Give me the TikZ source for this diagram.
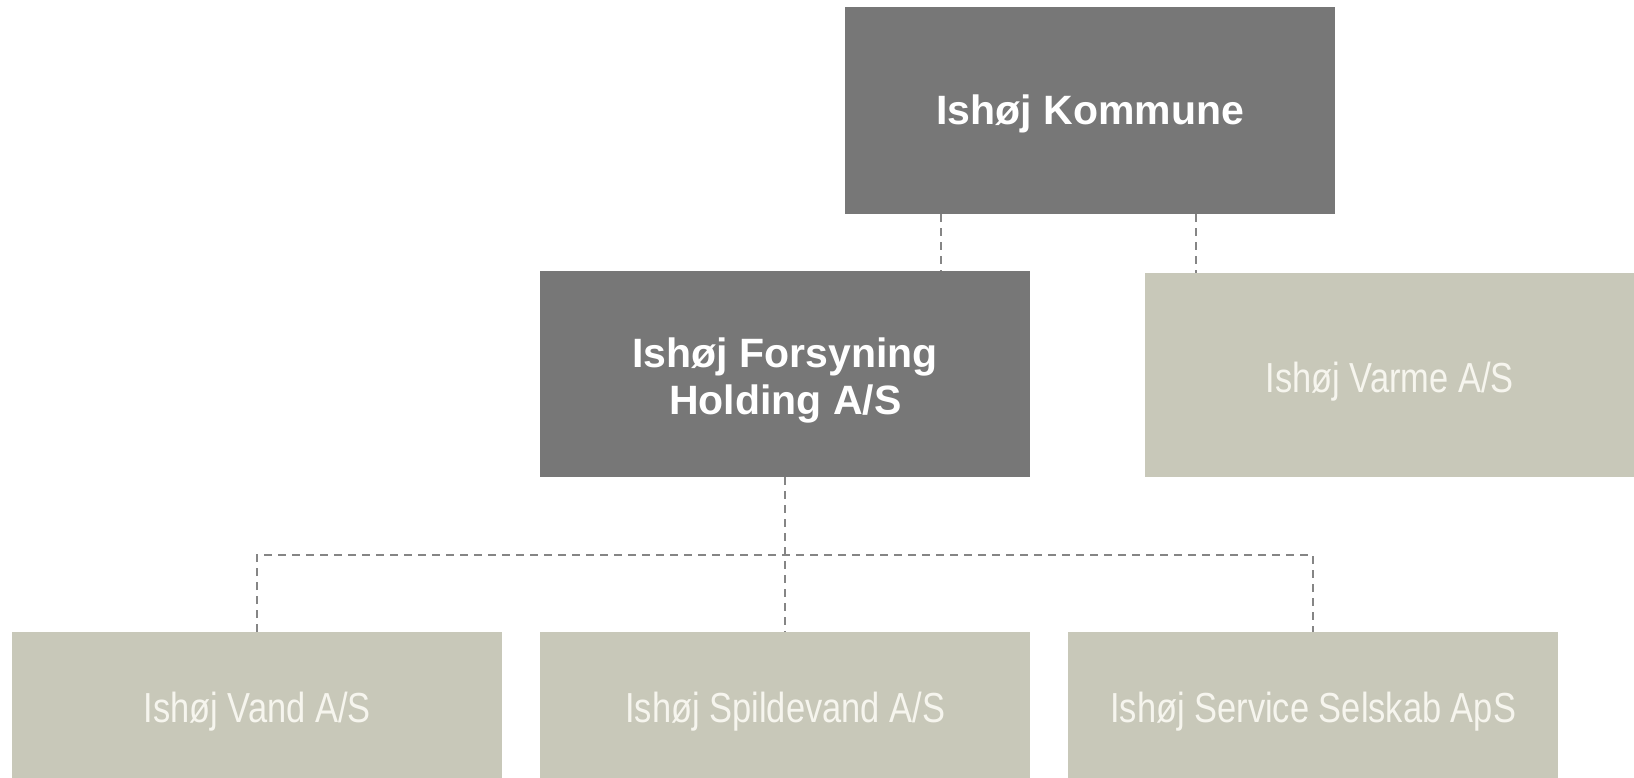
\documentclass[tikz,border=0pt]{standalone}
\usepackage{fontspec}
\setmainfont{Liberation Sans}
\newfontfamily\lightfont[FakeStretch=0.82]{Liberation Sans}
\usetikzlibrary{calc}
\definecolor{darkbox}{HTML}{777777}
\definecolor{beigebox}{HTML}{C8C8B9}
\definecolor{lighttext}{HTML}{F6F5EE}
\definecolor{connclr}{HTML}{858585}
\begin{document}
\begin{tikzpicture}[x=1pt,y=-1pt,
  darknode/.style={rectangle, fill=darkbox, draw=none, inner sep=0pt, minimum width=490pt, minimum height=207pt, text=white, align=center, font=\bfseries\fontsize{41}{47}\selectfont},
  lightnode/.style={rectangle, fill=beigebox, draw=none, inner sep=0pt, minimum width=490pt, text=lighttext, text height=42pt, text depth=8pt, font=\lightfont\fontsize{42}{50}\selectfont},
  conn/.style={draw=connclr, line width=2.3pt, dash pattern=on 8pt off 6pt}]
\useasboundingbox (0,0) rectangle (1634,778);
\fill[white] (0,0) rectangle (1634,778);
\node[darknode, anchor=north west, text height=36pt, text depth=8.6pt] (kom) at (845,7) {Ishøj Kommune};
\node[darknode, anchor=north west, minimum height=206pt] (hold) at (540,271) {};
\node[darknode, fill=none, minimum width=0pt, minimum height=0pt] (holdtxt) at ([yshift=-6pt]hold.center) {Ishøj Forsyning\\Holding A/S};
\node[lightnode, anchor=north west, minimum width=489pt, minimum height=204pt] (varme) at (1145,273) {Ishøj Varme A/S};
\node[lightnode, anchor=north west, minimum height=146pt] (vand) at (12,632) {Ishøj Vand A/S};
\node[lightnode, anchor=north west, minimum height=146pt] (spild) at (540,632) {Ishøj Spildevand A/S};
\node[lightnode, anchor=north west, minimum height=146pt] (serv) at (1068,632) {Ishøj Service Selskab ApS};
\coordinate (k1) at ($(kom.south west)!0.196!(kom.south east)$);
\coordinate (k2) at ($(kom.south west)!0.716!(kom.south east)$);
\draw[conn] (k1) -- (k1 |- hold.north);
\draw[conn] (k2) -- (k2 |- varme.north);
\coordinate (bus) at ($(hold.south)!0.503!(spild.north)$);
\draw[conn] (hold.south) -- (spild.north);
\draw[conn] (vand.north) |- (bus) -| (serv.north);
\end{tikzpicture}
\end{document}
